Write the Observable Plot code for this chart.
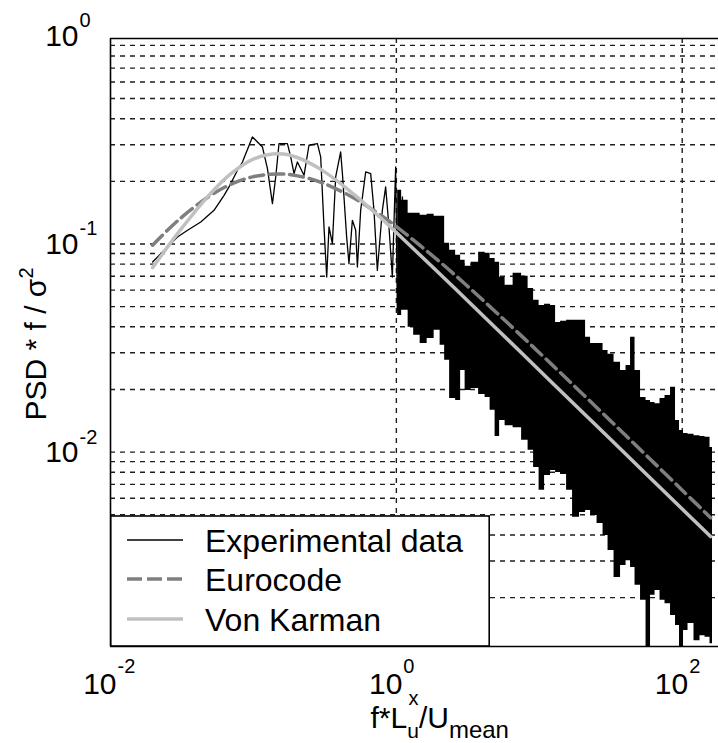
<!DOCTYPE html>
<html>
<head>
<meta charset="utf-8">
<script src="https://cdn.jsdelivr.net/npm/d3@7"></script>
<script src="https://cdn.jsdelivr.net/npm/@observablehq/plot@0.6"></script>
<style>
  html, body { margin: 0; padding: 0; background: #fff; }
  #chart svg { display: block; }
</style>
</head>
<body>
<div id="chart"></div>
<script>
// ---- Experimental spectrum, low-frequency part (f*L/U, PSD*f/sigma^2) ----
const lowF = [0.0197, 0.0231, 0.0294, 0.0346, 0.0428, 0.053, 0.0623, 0.0675, 0.0773, 0.0838,
  0.0984, 0.1156, 0.1253, 0.1358, 0.1432, 0.151, 0.1729, 0.1823, 0.1923, 0.2031,
  0.2259, 0.2447, 0.2803, 0.2955, 0.3117, 0.3256, 0.3379, 0.3568, 0.3762, 0.4077,
  0.4193, 0.449, 0.4661, 0.4923, 0.5193, 0.5336, 0.5627, 0.6099, 0.6612, 0.6973,
  0.7362, 0.798, 0.8416, 0.8879, 0.9376, 0.9888, 1.016, 1.102, 1.161];
const lowPSD = [0.082, 0.0915, 0.108, 0.1164, 0.1276, 0.1452, 0.1714, 0.188, 0.2261, 0.2478,
  0.327, 0.2926, 0.2304, 0.1564, 0.2099, 0.3038, 0.3038, 0.262, 0.218, 0.2478,
  0.2139, 0.2982, 0.3038, 0.262, 0.1207, 0.0694, 0.1207, 0.1005, 0.2099, 0.2769,
  0.218, 0.108, 0.0805, 0.13, 0.1164, 0.0775, 0.1452, 0.2219, 0.218, 0.1452,
  0.0747, 0.1452, 0.188, 0.1207, 0.0694, 0.2345, 0.048, 0.1683, 0.0835];

// ---- Experimental spectrum, dense high-frequency band: upper / lower envelope ----
const bandF = [1.021, 1.161, 1.259, 1.387, 1.552, 1.738, 1.944, 2.108, 2.248, 2.476,
  2.727, 2.908, 3.152, 3.528, 4.013, 4.349, 4.713, 5.11, 5.45, 6.101,
  7.053, 8.021, 8.694, 9.574, 10.38, 11.43, 12.59, 13.43, 14.79, 16.29,
  17.94, 20.41, 21.77, 23.98, 26.84, 29.08, 31.52, 35.28, 38.86, 42.12,
  44.91, 48.69, 53.63, 58.12, 61.98, 67.19, 72.82, 78.92, 86.94, 92.71,
  98.88, 105.5, 114.3, 127.9, 138.7, 150.3, 162.9];
const bandHi = [0.1813, 0.1622, 0.1405, 0.1405, 0.1374, 0.1389, 0.1359, 0.1359, 0.1008, 0.0932,
  0.0883, 0.0835, 0.0781, 0.0817, 0.0912, 0.0902, 0.0853, 0.0817, 0.0692, 0.0633,
  0.0723, 0.0699, 0.0612, 0.0536, 0.0507, 0.0513, 0.0507, 0.042, 0.0425, 0.043,
  0.043, 0.043, 0.0356, 0.0333, 0.0333, 0.0308, 0.0295, 0.027, 0.0247, 0.0261,
  0.0356, 0.0247, 0.0183, 0.0177, 0.0173, 0.0171, 0.0181, 0.0187, 0.0205, 0.0142,
  0.0127, 0.0123, 0.0122, 0.012, 0.0119, 0.0118, 0.01053];
const bandLo = [0.0454, 0.048, 0.0398, 0.0364, 0.0333, 0.0352, 0.0385, 0.0326, 0.0276, 0.0181,
  0.0177, 0.0247, 0.0198, 0.0202, 0.0189, 0.0183, 0.0159, 0.0119, 0.0142, 0.0134,
  0.0131, 0.0114, 0.0102, 0.00844, 0.00655, 0.00773, 0.00817, 0.00799, 0.00781, 0.00655,
  0.00486, 0.00513, 0.00524, 0.00496, 0.00454, 0.00398, 0.00337, 0.0025, 0.00285, 0.00301,
  0.00279, 0.00229, 0.00194, 0.00116, 0.00205, 0.00216, 0.00194, 0.00187, 0.00164, 0.00147,
  0.00116, 0.00139, 0.0015, 0.00124, 0.00131, 0.00129, 0.0012];

// ---- Model spectra ----
const modelF = [0.0197, 0.03, 0.05, 0.07, 0.1, 0.15, 0.2, 0.3, 0.5, 0.7,
  1, 2, 3, 5, 10, 20, 50, 100, 158];
const eurocode = [0.0987, 0.1307, 0.1711, 0.1939, 0.2107, 0.2171, 0.2131, 0.1974, 0.167, 0.1445,
  0.1213, 0.0824, 0.0646, 0.0469, 0.03005, 0.01909, 0.01041, 0.006564, 0.004842];
const vonKarman = [0.077, 0.114, 0.1746, 0.2185, 0.256, 0.2712, 0.2612, 0.2271, 0.1742, 0.1424,
  0.1135, 0.0722, 0.0552, 0.0393, 0.02475, 0.01559, 0.008464, 0.00533, 0.00393];

// ---- Axes, ticks, grid ----
const xDomain = [0.01, 179.4];
const yDomain = [0.001164, 0.9716];
const xTickValues = [0.01, 1, 100];
const xTickExponents = ["-2", "0", "2"];
const yTickValues = [1, 0.1, 0.01];
const yTickExponents = ["0", "-1", "-2"];
const xGrid = [1, 100];
const yGrid = [0.002, 0.003, 0.004, 0.005, 0.006, 0.007, 0.008, 0.009,
  0.01, 0.02, 0.03, 0.04, 0.05, 0.06, 0.07, 0.08, 0.09,
  0.1, 0.2, 0.3, 0.4, 0.5, 0.6, 0.7, 0.8, 0.9];
const legendLabels = ["Experimental data", "Eurocode", "Von Karman"];
const seriesColors = ["#000000", "#7f7f7f", "#c0c0c0"];
const xLabelText = "f*L/U";
const xLabelSup = "x";
const yLabelText = "PSD * f / σ";

const FONT = "'Liberation Sans', Arial, Helvetica, sans-serif";
const GRID = {stroke: "#1e1e1e", strokeWidth: 1.4, strokeDasharray: "5,5"};

const bandIdx = d3.range(bandF.length);
const lowIdx = d3.range(lowF.length);
const modelIdx = d3.range(modelF.length);

const svgNode = Plot.plot({
  width: 718,
  height: 743,
  marginLeft: 110,
  marginRight: 0,
  marginTop: 38,
  marginBottom: 97,
  style: {fontFamily: FONT, fontSize: "30px", background: "white", color: "black"},
  x: {type: "log", domain: xDomain, axis: null},
  y: {type: "log", domain: yDomain, axis: null},
  marks: [
    Plot.ruleY(yGrid, GRID),
    Plot.ruleX(xGrid, GRID),
    Plot.areaY(bandIdx, {x: i => bandF[i], y1: i => bandLo[i], y2: i => bandHi[i],
      curve: "step", fill: seriesColors[0], clip: true}),
    Plot.line(lowIdx, {x: i => lowF[i], y: i => lowPSD[i], stroke: seriesColors[0],
      strokeWidth: 1.3, clip: true}),
    Plot.line(modelIdx, {x: i => modelF[i], y: i => eurocode[i], stroke: seriesColors[1],
      strokeWidth: 3.5, strokeDasharray: "14,6", curve: "catmull-rom"}),
    Plot.line(modelIdx, {x: i => modelF[i], y: i => vonKarman[i], stroke: seriesColors[2],
      strokeWidth: 3.5, curve: "catmull-rom"}),
    Plot.ruleX([xDomain[0]], {stroke: "black", strokeWidth: 1.6}),
    Plot.ruleY(yDomain, {stroke: "black", strokeWidth: 1.6}),
    // y tick labels
    Plot.text(yTickValues, {y: d => d, frameAnchor: "left", text: () => "10",
      textAnchor: "end", lineAnchor: "middle", dx: -32, fontSize: 30}),
    Plot.text(yTickValues, {y: d => d, frameAnchor: "left", text: (d, i) => yTickExponents[i],
      textAnchor: "start", lineAnchor: "middle", dx: -31, dy: -15, fontSize: 20}),
    // x tick labels
    Plot.text(xTickValues, {x: d => d, frameAnchor: "bottom", text: () => "10",
      textAnchor: "end", lineAnchor: "bottom", dx: 6, dy: 47, fontSize: 30}),
    Plot.text(xTickValues, {x: d => d, frameAnchor: "bottom", text: (d, i) => xTickExponents[i],
      textAnchor: "start", lineAnchor: "bottom", dx: 7, dy: 26, fontSize: 20}),
    // axis labels (rich text added below)
    Plot.text([xLabelText], {frameAnchor: "bottom-left", textAnchor: "start", lineAnchor: "bottom",
      dx: 260, dy: 81, fontSize: 30}),
    Plot.text([xLabelSup], {frameAnchor: "bottom-left", textAnchor: "start", lineAnchor: "bottom",
      dx: 298, dy: 58, fontSize: 20}),
    Plot.text([yLabelText], {frameAnchor: "left", rotate: -90, textAnchor: "start",
      lineAnchor: "bottom", dx: -65, dy: 78, fontSize: 30})
  ]
});
document.getElementById("chart").appendChild(svgNode);

const svg = d3.select(svgNode);
const byText = t => svg.selectAll("text").filter(function() { return this.textContent === t; });

// x label with subscripts
const xl = byText(xLabelText);
xl.text(null);
xl.append("tspan").text("f*L");
xl.append("tspan").attr("font-size", 21).attr("dy", 10).text("u");
xl.append("tspan").attr("dy", -10).text("/U");
xl.append("tspan").attr("font-size", 24).attr("dy", 10).text("mean");

// y label with superscript
const yl = byText(yLabelText);
yl.text(null);
yl.append("tspan").text(yLabelText);
yl.append("tspan").attr("font-size", 20).attr("dy", -13).text("2");

// legend box
const lg = svg.append("g").attr("font-family", FONT).attr("font-size", 32)
  .attr("text-anchor", "start");
lg.append("rect").attr("x", 110.8).attr("y", 516).attr("width", 378.4).attr("height", 130)
  .attr("fill", "white").attr("stroke", "black").attr("stroke-width", 1.6);
const rowY = [540, 579, 619];
const rowStyle = [
  {w: 1.3, dash: null},
  {w: 3.5, dash: "15,5"},
  {w: 3.5, dash: null}
];
legendLabels.forEach((lab, i) => {
  const l = lg.append("line").attr("x1", 127).attr("x2", 183)
    .attr("y1", rowY[i]).attr("y2", rowY[i])
    .attr("stroke", seriesColors[i]).attr("stroke-width", rowStyle[i].w);
  if (rowStyle[i].dash) l.attr("stroke-dasharray", rowStyle[i].dash);
  lg.append("text").attr("x", 205).attr("y", rowY[i] + 11.5).attr("fill", "black")
    .attr("text-anchor", "start").text(lab);
});
</script>
</body>
</html>
